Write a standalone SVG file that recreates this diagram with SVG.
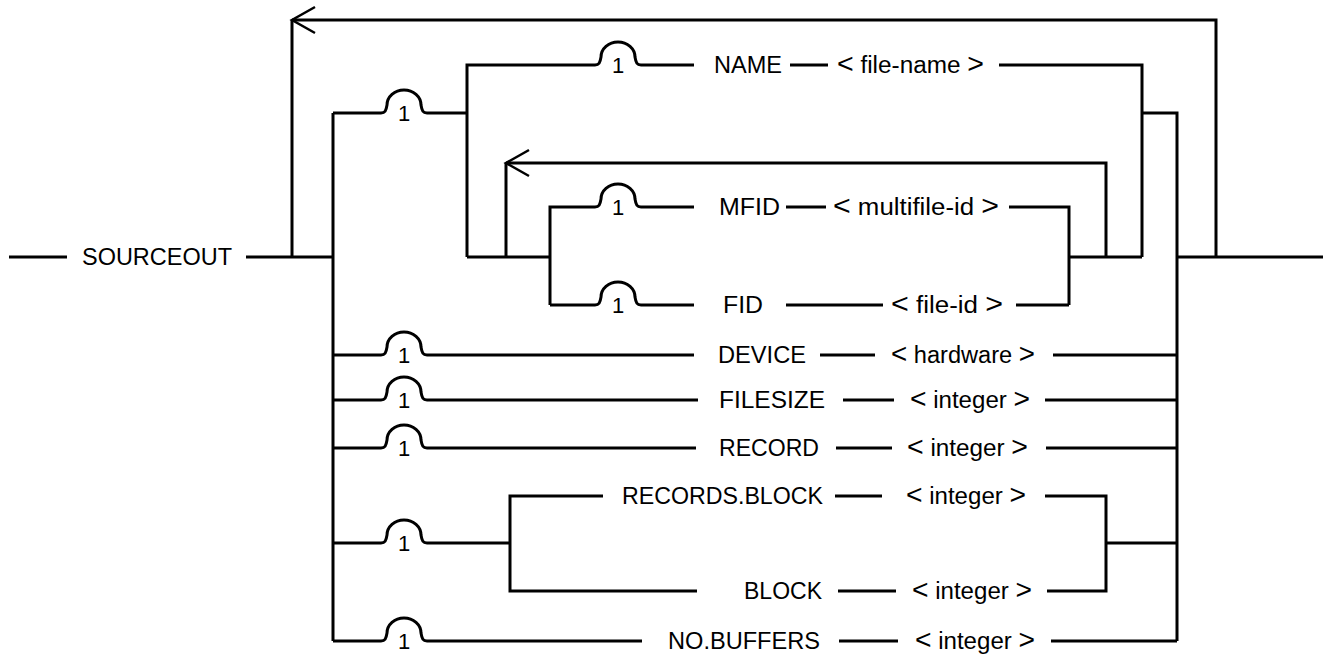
<svg xmlns="http://www.w3.org/2000/svg" width="1323" height="654" viewBox="0 0 1323 654">
<style>
.ln{fill:none;stroke:#000;stroke-width:3;stroke-linejoin:miter;stroke-linecap:butt}
.t{font-family:"Liberation Sans",Arial,sans-serif;font-size:23px;fill:#000}
.b{font-size:27px}
.one{font-family:"Liberation Sans",Arial,sans-serif;font-size:22px;fill:#000;text-anchor:middle}
</style>
<defs>
<marker id="arr" markerUnits="userSpaceOnUse" markerWidth="30" markerHeight="30" viewBox="-26 -15 30 30" refX="0" refY="0" orient="auto" overflow="visible">
<path d="M-23,-13 L0,0 L-23,13" fill="none" stroke="#000" stroke-width="2.5"/>
</marker>
</defs>
<rect width="1323" height="654" fill="#fff"/>
<g id="connectors">
<path class="ln" d="M9,257 H67 M246,257 H333 M467,257 H550 M1069,257 H1142 M1177,257 H1323"/>
<path class="ln" d="M1216,257 V20 H292" marker-end="url(#arr)"/>
<path class="ln" d="M292,20 V257"/>
<path class="ln" d="M1106,257 V163 H506" marker-end="url(#arr)"/>
<path class="ln" d="M506,163 V257"/>
<path class="ln" d="M333,113 V641"/>
<path class="ln" d="M1142,113 H1177 V641"/>
<path class="ln" d="M333,113 H381 C385,113 386,111 387,105 A17,15 0 0 1 421,105 C422,111 423,113 427,113 H467"/>
<path class="ln" d="M467,257 V65 H595 C599,65 600,63 601,57 A17,15 0 0 1 635,57 C636,63 637,65 641,65 H694"/>
<path class="ln" d="M790,65 H828 M999,65 H1142 V257"/>
<path class="ln" d="M550,305 V207 H595 C599,207 600,205 601,199 A17,15 0 0 1 635,199 C636,205 637,207 641,207 H694"/>
<path class="ln" d="M786,207 H826 M1009,207 H1069 V305"/>
<path class="ln" d="M550,305 H595 C599,305 600,303 601,297 A17,15 0 0 1 635,297 C636,303 637,305 641,305 H694"/>
<path class="ln" d="M786,305 H883 M1016,305 H1069"/>
<path class="ln" d="M333,355 H381 C385,355 386,353 387,347 A17,15 0 0 1 421,347 C422,353 423,355 427,355 H694"/>
<path class="ln" d="M820,355 H875 M1053,355 H1177"/>
<path class="ln" d="M333,400 H381 C385,400 386,398 387,392 A17,15 0 0 1 421,392 C422,398 423,400 427,400 H698"/>
<path class="ln" d="M843,400 H894 M1045,400 H1177"/>
<path class="ln" d="M333,448 H381 C385,448 386,446 387,440 A17,15 0 0 1 421,440 C422,446 423,448 427,448 H696"/>
<path class="ln" d="M836,448 H892 M1046,448 H1177"/>
<path class="ln" d="M333,543 H381 C385,543 386,541 387,535 A17,15 0 0 1 421,535 C422,541 423,543 427,543 H510"/>
<path class="ln" d="M603,496 H510 V591 H697"/>
<path class="ln" d="M835,496 H882 M1045,496 H1106 V591 H1047 M838,591 H896 M1106,543 H1177"/>
<path class="ln" d="M333,641 H381 C385,641 386,639 387,633 A17,15 0 0 1 421,633 C422,639 423,641 427,641 H642"/>
<path class="ln" d="M839,641 H898 M1051,641 H1177"/>
</g>
<g id="limits">
<text class="one" x="404" y="121">1</text>
<text class="one" x="618" y="73">1</text>
<text class="one" x="618" y="215">1</text>
<text class="one" x="618" y="313">1</text>
<text class="one" x="404" y="363">1</text>
<text class="one" x="404" y="408">1</text>
<text class="one" x="404" y="456">1</text>
<text class="one" x="404" y="551">1</text>
<text class="one" x="404" y="649">1</text>
</g>
<g id="sourceout"><text class="t" x="82" y="265" textLength="150" lengthAdjust="spacingAndGlyphs">SOURCEOUT</text></g>
<g id="name">
<text class="t" x="714" y="73" textLength="68" lengthAdjust="spacingAndGlyphs">NAME</text>
<text class="t" x="837" y="73" textLength="147" lengthAdjust="spacingAndGlyphs"><tspan class="b">&lt;</tspan> file-name <tspan class="b">&gt;</tspan></text>
</g>
<g id="mfid">
<text class="t" x="719" y="215" textLength="61" lengthAdjust="spacingAndGlyphs">MFID</text>
<text class="t" x="833" y="215" textLength="166" lengthAdjust="spacingAndGlyphs"><tspan class="b">&lt;</tspan> multifile-id <tspan class="b">&gt;</tspan></text>
</g>
<g id="fid">
<text class="t" x="723" y="313" textLength="40" lengthAdjust="spacingAndGlyphs">FID</text>
<text class="t" x="891" y="313" textLength="112" lengthAdjust="spacingAndGlyphs"><tspan class="b">&lt;</tspan> file-id <tspan class="b">&gt;</tspan></text>
</g>
<g id="device">
<text class="t" x="718" y="363" textLength="88" lengthAdjust="spacingAndGlyphs">DEVICE</text>
<text class="t" x="891" y="363" textLength="144" lengthAdjust="spacingAndGlyphs"><tspan class="b">&lt;</tspan> hardware <tspan class="b">&gt;</tspan></text>
</g>
<g id="filesize">
<text class="t" x="719" y="408" textLength="106" lengthAdjust="spacingAndGlyphs">FILESIZE</text>
<text class="t" x="910" y="408" textLength="120" lengthAdjust="spacingAndGlyphs"><tspan class="b">&lt;</tspan> integer <tspan class="b">&gt;</tspan></text>
</g>
<g id="record">
<text class="t" x="719" y="456" textLength="100" lengthAdjust="spacingAndGlyphs">RECORD</text>
<text class="t" x="907" y="456" textLength="121" lengthAdjust="spacingAndGlyphs"><tspan class="b">&lt;</tspan> integer <tspan class="b">&gt;</tspan></text>
</g>
<g id="records-block">
<text class="t" x="622" y="504" textLength="201" lengthAdjust="spacingAndGlyphs">RECORDS.BLOCK</text>
<text class="t" x="906" y="504" textLength="120" lengthAdjust="spacingAndGlyphs"><tspan class="b">&lt;</tspan> integer <tspan class="b">&gt;</tspan></text>
</g>
<g id="block">
<text class="t" x="744" y="599" textLength="78" lengthAdjust="spacingAndGlyphs">BLOCK</text>
<text class="t" x="912" y="599" textLength="120" lengthAdjust="spacingAndGlyphs"><tspan class="b">&lt;</tspan> integer <tspan class="b">&gt;</tspan></text>
</g>
<g id="no-buffers">
<text class="t" x="668" y="649" textLength="152" lengthAdjust="spacingAndGlyphs">NO.BUFFERS</text>
<text class="t" x="915" y="649" textLength="120" lengthAdjust="spacingAndGlyphs"><tspan class="b">&lt;</tspan> integer <tspan class="b">&gt;</tspan></text>
</g>
</svg>
